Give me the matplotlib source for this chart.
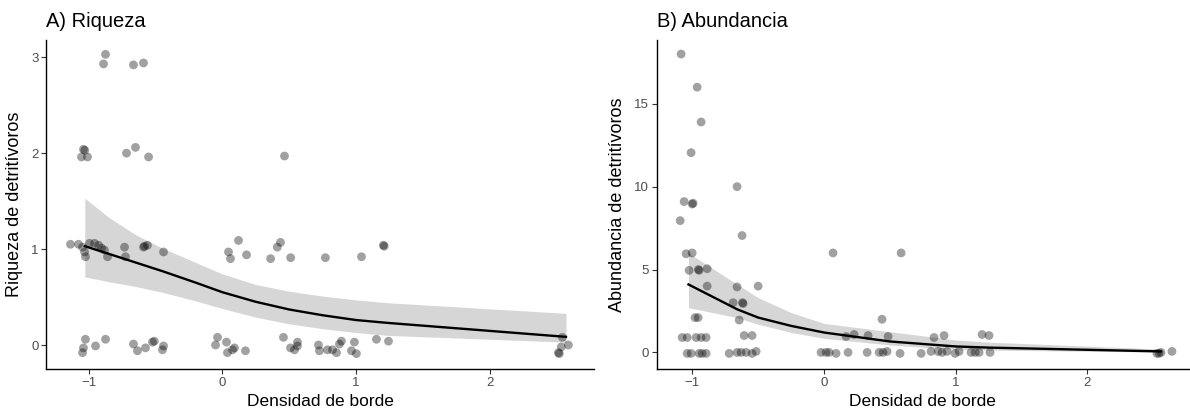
import matplotlib.pyplot as plt
import numpy as np

plt.rcParams['font.family'] = ['Liberation Sans', 'DejaVu Sans']

# A) Riqueza -- jittered points as drawn
riq_x = [-0.875, -0.89, -0.666, -0.591,
         -1.04, -1.03, -1.055, -1.01, -0.718, -0.651, -0.553, 0.464,
         -1.137, -1.077, -1.047, -1.032, -1.025, -0.995, -0.957, -0.927, -0.905, -0.883,
         -0.86, -0.733, -0.726, -0.591, -0.583, -0.561, -0.441,
         0.045, 0.06, 0.12, 0.18, 0.36, 0.41, 0.434, 0.51, 0.77, 1.04, 1.204, 1.21,
         -1.025, -1.04, -1.047, -0.95, -0.875, -0.666, -0.636, -0.576, -0.524, -0.51,
         -0.441, -0.449, -0.037, -0.052, 0.03, 0.037, 0.075, 0.09, 0.172,
         0.456, 0.509, 0.561, 0.561, 0.539, 0.718, 0.725, 0.785, 0.823, 0.853, 0.89,
         0.875, 0.987, 0.965, 1.002, 1.152, 1.242,
         2.513, 2.52, 2.535, 2.588, 2.543]
riq_y = [3.03, 2.93, 2.92, 2.94,
         2.04, 2.03, 1.96, 1.96, 2.0, 2.06, 1.96, 1.97,
         1.05, 1.05, 1.02, 0.97, 0.92, 1.06, 1.06, 1.04, 1.01, 0.99,
         0.92, 1.02, 0.92, 1.02, 1.03, 1.04, 0.97,
         0.97, 0.9, 1.09, 0.94, 0.9, 1.02, 1.07, 0.91, 0.91, 0.92, 1.04, 1.03,
         0.06, -0.03, -0.08, -0.01, 0.06, 0.01, -0.06, -0.03, 0.03, 0.04,
         -0.01, -0.05, 0.08, 0.0, 0.03, -0.08, -0.05, -0.03, -0.06,
         0.08, -0.03, 0.03, -0.01, -0.05, 0.0, -0.06, -0.05, -0.05, -0.08, 0.04,
         0.01, 0.03, -0.06, -0.09, 0.06, 0.04,
         -0.08, -0.09, -0.02, 0.0, 0.08]

riq_fx = [-1.03, -0.85, -0.65, -0.45, -0.2, 0.0, 0.25, 0.5, 0.75, 1.0, 1.24, 2.57]
riq_fit = [1.03, 0.95, 0.86, 0.77, 0.65, 0.55, 0.45, 0.37, 0.31, 0.26, 0.23, 0.085]
riq_hi = [1.53, 1.33, 1.15, 1.01, 0.86, 0.74, 0.63, 0.56, 0.51, 0.47, 0.44, 0.33]
riq_lo = [0.71, 0.66, 0.61, 0.55, 0.46, 0.38, 0.29, 0.22, 0.17, 0.13, 0.10, 0.03]

# B) Abundancia
abu_x = [-1.086, -0.964, -0.934, -1.01, -0.661, -1.063, -1.002, -0.995, -1.093, -0.623,
         0.068, 0.585, -1.048, -1.002,
         -1.025, -0.949, -0.955, -0.888, -0.888, -0.661, -0.501,
         -0.691, -0.615, -0.62, -0.645, -0.98, -0.957, 0.44,
         -1.078, -1.04, -0.972, -0.934, -0.896, -0.607, -0.547, 0.167, 0.228, 0.334,
         0.486, 0.835, 0.911, 1.2, 1.253,
         -1.04, -1.01, -0.949, -0.926, -0.896, -0.721, -0.661, -0.63, -0.592, -0.547,
         -0.516, -0.023, 0.015, 0.038, 0.091, 0.182, 0.327, 0.418, 0.448, 0.478,
         0.577, 0.737, 0.812, 0.866, 0.896, 0.934, 0.995, 1.025, 1.116, 1.147,
         1.177, 1.26, 2.528, 2.544, 2.559, 2.642]
abu_y = [18.0, 16.0, 13.9, 12.05, 10.0, 9.1, 8.95, 9.0, 7.95, 7.05,
         6.0, 6.0, 5.95, 6.0,
         4.95, 4.95, 5.0, 5.05, 4.0, 3.95, 4.0,
         3.0, 2.95, 3.0, 1.95, 2.1, 2.1, 2.0,
         0.9, 0.9, 0.9, 0.9, 0.9, 1.02, 1.02, 0.96, 1.08, 1.02,
         0.96, 0.9, 1.02, 1.08, 1.02,
         -0.06, -0.06, -0.06, -0.06, -0.06, -0.06, 0.0, 0.0, 0.0, -0.06,
         0.06, 0.0, 0.0, 0.0, -0.06, 0.0, 0.0, 0.0, 0.0, 0.06,
         -0.06, -0.06, 0.06, 0.06, 0.0, 0.06, -0.06, 0.06, 0.0, 0.0,
         0.0, 0.0, -0.06, -0.06, 0.0, 0.06]

abu_fx = [-1.03, -0.66, -0.5, -0.25, 0.0, 0.5, 1.0, 1.25, 2.56]
abu_fit = [4.1, 2.6, 2.1, 1.6, 1.2, 0.66, 0.36, 0.29, 0.06]
abu_hi = [6.0, 4.1, 3.3, 2.4, 1.75, 1.25, 0.75, 0.62, 0.2]
abu_lo = [2.7, 2.1, 1.7, 1.2, 0.85, 0.45, 0.18, 0.14, 0.02]

fig = plt.figure(figsize=(11.9, 4.16), dpi=100)
ax1 = fig.add_axes([0.0387, 0.113, 0.4605, 0.791])
ax2 = fig.add_axes([0.552, 0.113, 0.447, 0.791])


def panel(ax, px, py, fx, fit, lo, hi, title, ylab, xlim, ylim, yticks):
    ax.fill_between(fx, lo, hi, color='#d6d6d6', lw=0, zorder=1)
    ax.scatter(px, py, s=40, color='black', alpha=0.37, edgecolors='none', zorder=2)
    ax.plot(fx, fit, color='black', lw=1.7, zorder=3)
    ax.set_xlim(xlim)
    ax.set_ylim(ylim)
    ax.set_xticks([-1, 0, 1, 2])
    ax.set_yticks(yticks)
    for s in ['top', 'right']:
        ax.spines[s].set_visible(False)
    for s in ['left', 'bottom']:
        ax.spines[s].set_color('black')
        ax.spines[s].set_linewidth(1.0)
    ax.tick_params(length=3.5, width=0.8, color='#333333', labelcolor='#4d4d4d',
                   labelsize=9.5, pad=2)
    ax.set_xlabel('Densidad de borde', fontsize=12.5, labelpad=4)
    ax.set_ylabel(ylab, fontsize=13, labelpad=6)
    ax.set_title(title, loc='left', fontsize=14.5, pad=9)


panel(ax1, riq_x, riq_y, riq_fx, riq_fit, riq_lo, riq_hi, 'A) Riqueza',
      'Riqueza de detritívoros', (-1.32, 2.78), (-0.25, 3.18), [0, 1, 2, 3])
panel(ax2, abu_x, abu_y, abu_fx, abu_fit, abu_lo, abu_hi, 'B) Abundancia',
      'Abundancia de detritívoros', (-1.27, 2.77), (-1.0, 18.85), [0, 5, 10, 15])

fig.savefig('out.png', dpi=100)
